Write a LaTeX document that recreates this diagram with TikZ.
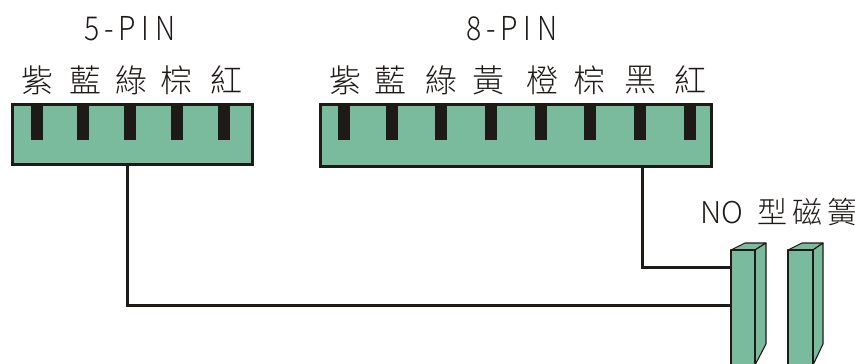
\documentclass[tikz,border=0pt]{standalone}
\usepackage{fontspec}
\setmainfont{Noto Sans CJK TC Light}
\usepackage{xcolor}
\definecolor{colorBody}{HTML}{7ABB9D}
\definecolor{colorLine}{HTML}{1E1A18}
\usetikzlibrary{positioning}
\newcommand{\gapA}{\hspace{5pt}}
\newcommand{\gapB}{\hspace{7pt}}
\tikzset{
  housing/.style={draw=colorLine, fill=colorBody, line width=3pt, inner sep=0pt, outer sep=0pt},
  pinbar/.style={fill=colorLine, inner sep=0pt, outer sep=0pt, minimum width=12pt, minimum height=36pt},
  wire/.style={draw=colorLine, line width=3pt},
  reedface/.style={draw=colorLine, fill=colorBody, line width=1.1pt, line join=round},
  wirelabel/.style={inner sep=0pt, font=\fontsize{32}{32}\selectfont, text=colorLine},
  headlabel/.style={inner sep=0pt, font=\fontsize{33}{33}\selectfont, text=colorLine, xscale=.86},
  typelabel/.style={inner sep=0pt, font=\fontsize{30}{30}\selectfont, text=colorLine}
}
\begin{document}
\begin{tikzpicture}[x=1pt, y=-1pt, node distance=3pt]
\path[use as bounding box, clip] (0,0) rectangle (855,364);
\node[housing, minimum width=240pt, minimum height=60pt, anchor=north west] (box5) at (12,104) {};
\node[housing, minimum width=391pt, minimum height=62pt, anchor=north west] (box8) at (320,104) {};
\node[pinbar, anchor=north] (p51) at (37,104) {};
\node[pinbar, anchor=north] (p52) at (83,104) {};
\node[pinbar, anchor=north] (p53) at (130,104) {};
\node[pinbar, anchor=north] (p54) at (177,104) {};
\node[pinbar, anchor=north] (p55) at (224,104) {};
\node[pinbar, anchor=north] (p81) at (344,104) {};
\node[pinbar, anchor=north] (p82) at (392,104) {};
\node[pinbar, anchor=north] (p83) at (441,104) {};
\node[pinbar, anchor=north] (p84) at (491,104) {};
\node[pinbar, anchor=north] (p85) at (541,104) {};
\node[pinbar, anchor=north] (p86) at (590,104) {};
\node[pinbar, anchor=north] (p87) at (640,104) {};
\node[pinbar, anchor=north] (p88) at (690,104) {};
% colour names
\node[wirelabel] (l51) at (37,80) {紫};
\node[wirelabel] (l52) at (85,80) {藍};
\node[wirelabel] (l53) at (131,80) {綠};
\node[wirelabel] (l54) at (176,80) {棕};
\node[wirelabel] (l55) at (226,80) {紅};
\node[wirelabel] (l81) at (345,80) {紫};
\node[wirelabel] (l82) at (390,80) {藍};
\node[wirelabel] (l83) at (441,80) {綠};
\node[wirelabel] (l84) at (488,80) {黃};
\node[wirelabel] (l85) at (542,80) {橙};
\node[wirelabel] (l86) at (589,80) {棕};
\node[wirelabel] (l87) at (640,80) {黑};
\node[wirelabel] (l88) at (690,80) {紅};
% titles
\node[headlabel] (t5) at (130,29) {5\gapA-\gapA P\gapB I\gapB N};
\node[headlabel] (t8) at (512,29) {8\gapA-\gapA P\gapB I\gapB N};
\node[typelabel] (t0) at (779,212) {NO\hspace{14pt}型\gapA 磁\gapA 簧};
% reed contacts
\draw[reedface] (731,250) -- (745,243) -- (766,243) -- (755,250) -- cycle;
\draw[reedface] (755,250) -- (766,243) -- (766,344) -- (755,365) -- cycle;
\node[reedface, inner sep=0pt, outer sep=0pt, minimum width=24pt, minimum height=116pt, anchor=north west] (reed1) at (731,250) {};
\draw[reedface] (788,250) -- (802,243) -- (823,243) -- (813,250) -- cycle;
\draw[reedface] (813,250) -- (823,243) -- (823,344) -- (813,365) -- cycle;
\node[reedface, inner sep=0pt, outer sep=0pt, minimum width=25pt, minimum height=116pt, anchor=north west] (reed2) at (788,250) {};
% wires
\draw[wire] ([xshift=-5pt]box5.south) |- ([yshift=3pt]reed1.west);
\draw[wire] ([xshift=126.5pt]box8.south) |- ([yshift=41pt]reed1.west);
\end{tikzpicture}
\end{document}
